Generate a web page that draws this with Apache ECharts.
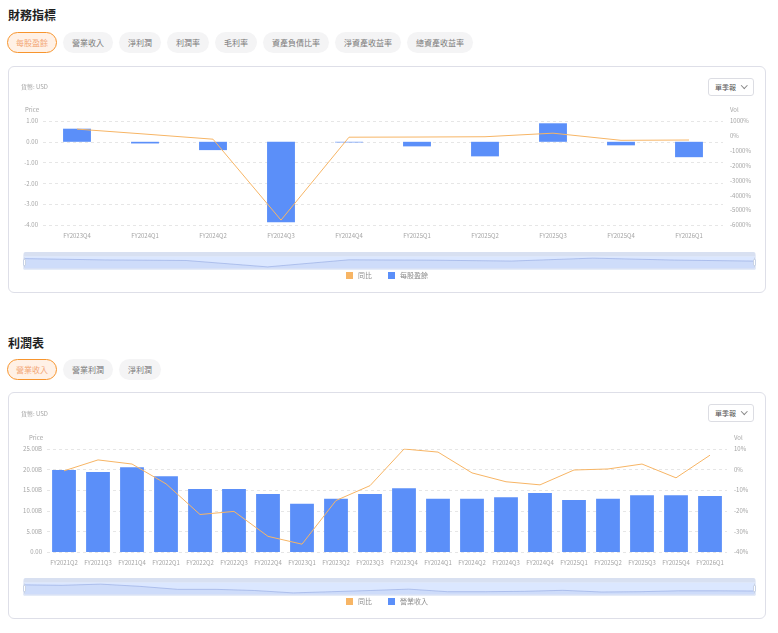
<!DOCTYPE html>
<html>
<head>
<meta charset="utf-8">
<script src="https://cdn.jsdelivr.net/npm/echarts@6/dist/echarts.min.js"></script>
<style>
  body { margin: 0; background: #fff; font-family: 'Noto Sans CJK TC', sans-serif; }
  .page { position: relative; width: 778px; height: 633px; overflow: hidden; }
  .title { position: absolute; left: 8px; font-size: 12px; font-weight: bold; color: #1f1f1f; line-height: 14px; }
  .tabs { position: absolute; left: 7px; display: flex; gap: 6px; }
  .tab { height: 21px; line-height: 21px; padding: 0 9px; border-radius: 11px; background: #f4f4f5; color: #7a7a7a; font-size: 8px; box-sizing: border-box; white-space: nowrap; }
  .tab.on { background: #fff1e6; border: 1px solid #f7952e; color: #f3a777; line-height: 19px; padding: 0 8px; }
  .card { position: absolute; left: 8px; width: 758px; height: 227px; border: 1px solid #dedfe8; border-radius: 6px; box-sizing: border-box; }
  .chart { position: absolute; left: 0; top: 0; width: 756px; height: 225px; }
  .btn { position: absolute; right: 11px; top: 11px; width: 46px; height: 18px; border: 1px solid #dcdde3; border-radius: 3px; box-sizing: border-box; font-size: 7px; color: #555; line-height: 16px; padding-left: 6px; z-index: 2; background: #fff; }
  .btn i { position: absolute; right: 7px; top: 4px; width: 3.5px; height: 3.5px; border-right: 1px solid #888; border-bottom: 1px solid #888; transform: rotate(45deg); }
</style>
</head>
<body>
<div class="page">
  <div class="title" style="top:8px">財務指標</div>
  <div class="tabs" style="top:32px">
    <div class="tab on">每股盈餘</div>
    <div class="tab">營業收入</div>
    <div class="tab">淨利潤</div>
    <div class="tab">利潤率</div>
    <div class="tab">毛利率</div>
    <div class="tab">資產負債比率</div>
    <div class="tab">淨資產收益率</div>
    <div class="tab">總資產收益率</div>
  </div>
  <div class="card" style="top:66px">
    <div class="btn">單季報<i></i></div>
    <div class="chart" id="c1"></div>
  </div>

  <div class="title" style="top:336px">利潤表</div>
  <div class="tabs" style="top:359px">
    <div class="tab on">營業收入</div>
    <div class="tab">營業利潤</div>
    <div class="tab">淨利潤</div>
  </div>
  <div class="card" style="top:392px">
    <div class="btn">單季報<i></i></div>
    <div class="chart" id="c2"></div>
  </div>
</div>
<script>
// 每股盈餘 (USD) and 同比 (%)
const epsQuarters = ['FY2023Q4', 'FY2024Q1', 'FY2024Q2', 'FY2024Q3', 'FY2024Q4', 'FY2025Q1', 'FY2025Q2', 'FY2025Q3', 'FY2025Q4', 'FY2026Q1'];
const epsValues = [0.63, -0.08, -0.40, -3.87, -0.03, -0.22, -0.70, 0.89, -0.17, -0.74];
const epsYoy = [455, 120, -225, -5670, -90, -80, -60, 180, -300, -280];

// 營業收入 (B USD) and 同比 (%)
const revQuarters = ['FY2021Q2', 'FY2021Q3', 'FY2021Q4', 'FY2022Q1', 'FY2022Q2', 'FY2022Q3', 'FY2022Q4', 'FY2023Q1', 'FY2023Q2', 'FY2023Q3',
  'FY2023Q4', 'FY2024Q1', 'FY2024Q2', 'FY2024Q3', 'FY2024Q4', 'FY2025Q1', 'FY2025Q2', 'FY2025Q3', 'FY2025Q4', 'FY2026Q1'];
const revValues = [19.9, 19.4, 20.6, 18.4, 15.3, 15.3, 14.1, 11.7, 12.9, 14.1,
  15.5, 12.9, 12.9, 13.3, 14.3, 12.6, 12.9, 13.8, 13.8, 13.6];
const revYoy = [-0.6, 4.7, 2.7, -6.9, -21.8, -20.3, -32.4, -36.2, -15.0, -7.8,
  10.0, 8.5, -1.6, -5.9, -7.4, -0.2, 0.3, 2.7, -4.0, 7.0];

const FONT = 'Noto Sans CJK TC';
const BLUE = '#5b8ff9';
const ORANGE = '#f7b565';
const GREY = '#a5a5a5';

function buildOption(cfg) {
  return {
    animation: false,
    textStyle: { fontFamily: FONT },
    graphic: [{
      type: 'text', left: 12, top: cfg.unitTop,
      style: { text: '貨幣: USD', fill: GREY, font: '6px ' + FONT }
    }],
    legend: {
      data: [{ name: '同比', icon: 'rect' }, { name: cfg.barName, icon: 'rect' }],
      left: 'center', top: 200, itemWidth: 7, itemHeight: 7, itemGap: 16,
      textStyle: { color: '#8c8c8c', fontSize: 7, fontFamily: FONT }
    },
    grid: { left: cfg.grid[0], right: cfg.grid[1], top: cfg.grid[2], height: cfg.grid[3] },
    xAxis: {
      type: 'category',
      data: cfg.categories,
      axisLine: { show: false },
      axisTick: { show: false },
      axisLabel: { interval: 0, color: GREY, fontSize: 6, margin: 8, fontFamily: FONT }
    },
    yAxis: [
      {
        type: 'value', name: 'Price', nameGap: 8,
        nameTextStyle: { color: GREY, fontSize: 6, align: 'right', padding: [0, 4, 0, 0], fontFamily: FONT },
        min: cfg.left[0], max: cfg.left[1], interval: cfg.left[2],
        axisLine: { show: false }, axisTick: { show: false },
        axisLabel: { color: GREY, fontSize: 6, margin: 5, formatter: cfg.leftFmt, fontFamily: FONT },
        splitLine: { lineStyle: { color: '#e6e6e6', type: [3, 3] } }
      },
      {
        type: 'value', name: 'Vol', nameGap: 8,
        nameTextStyle: { color: GREY, fontSize: 6, align: 'left', padding: [0, 0, 0, 7], fontFamily: FONT },
        min: cfg.right[0], max: cfg.right[1], interval: cfg.right[2],
        axisLine: { show: false }, axisTick: { show: false },
        axisLabel: { color: GREY, fontSize: 6, margin: 7, formatter: v => v + '%', fontFamily: FONT },
        splitLine: { show: false }
      }
    ],
    dataZoom: [{
      type: 'slider', xAxisIndex: 0, start: 0, end: 100,
      left: 12, right: 12, top: 185, height: 14,
      moveHandleSize: 4,
      moveHandleStyle: { color: '#d8e0f1', opacity: 1 },
      moveHandleIcon: 'none',
      handleSize: '70%',
      handleStyle: { color: '#fff', borderColor: '#c9d3e6' },
      showDetail: false,
      borderColor: '#e2e7f3',
      backgroundColor: 'rgba(0,0,0,0)',
      fillerColor: 'rgba(135,175,274,0.3)',
      dataBackground: {
        lineStyle: { color: '#a9c2f5', width: 0.8 },
        areaStyle: { color: '#b3cbf8', opacity: 0.6 }
      }
    }],
    series: [
      {
        name: cfg.barName, type: 'bar', data: cfg.bars, barWidth: cfg.barWidth,
        itemStyle: { color: BLUE }
      },
      {
        name: '同比', type: 'line', yAxisIndex: 1, data: cfg.yoy,
        showSymbol: false, symbol: 'none',
        lineStyle: { color: ORANGE, width: 1 }, itemStyle: { color: ORANGE }
      }
    ]
  };
}

const chart1 = echarts.init(document.getElementById('c1'));
chart1.setOption(buildOption({
  unitTop: 17,
  categories: epsQuarters,
  bars: epsValues,
  yoy: epsYoy,
  barName: '每股盈餘',
  barWidth: '41%',
  grid: [34, 42, 54, 104],
  left: [-4, 1, 1],
  right: [-6000, 1000, 1000],
  leftFmt: v => v.toFixed(2)
}));

const chart2 = echarts.init(document.getElementById('c2'));
chart2.setOption(buildOption({
  unitTop: 18,
  categories: revQuarters,
  bars: revValues,
  yoy: revYoy,
  barName: '營業收入',
  barWidth: '70%',
  grid: [38, 38, 56, 103],
  left: [0, 25, 5],
  right: [-40, 10, 10],
  leftFmt: v => v === 0 ? '0.00' : v.toFixed(2) + 'B'
}));
</script>
</body>
</html>
